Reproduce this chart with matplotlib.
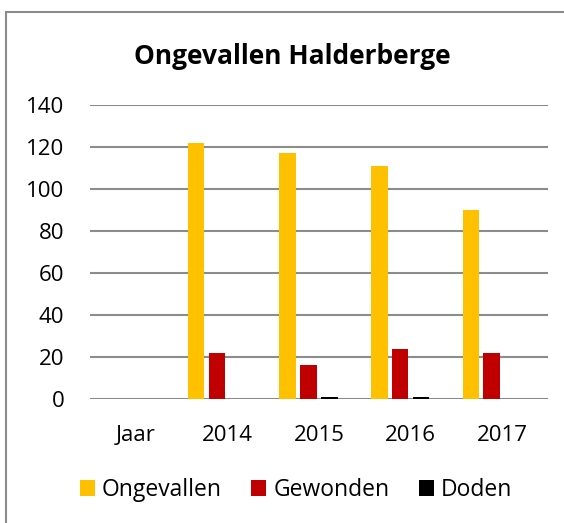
import matplotlib
matplotlib.use("Agg")
import matplotlib.pyplot as plt
import numpy as np
from matplotlib.patches import Rectangle

categories = ["Jaar", "2014", "2015", "2016", "2017"]
ongevallen = [0, 122, 117, 111, 90]
gewonden = [0, 22, 16, 24, 22]
doden = [0, 0, 1, 1, 0]
series = [("Ongevallen", ongevallen, "#FFC000"),
          ("Gewonden", gewonden, "#C00000"),
          ("Doden", doden, "#000000")]
yticks = [0, 20, 40, 60, 80, 100, 120, 140]

plt.rcParams['font.family'] = ['Open Sans', 'DejaVu Sans']

fig = plt.figure(figsize=(5.64, 5.23), dpi=100)
ax = fig.add_axes([90/564, 1-399/523, 458/564, 294/523])

x = np.arange(len(categories))
slot = 0.228
bw = 0.182
offsets = [-1.5, -0.5, 0.5]
for (name, vals, col), off in zip(series, offsets):
    ax.bar(x + off*slot, vals, width=bw, color=col, label=name, zorder=3)

ax.set_xlim(-0.5, len(categories)-0.5)
ax.set_ylim(0, 140)
ax.set_yticks(yticks)
ax.set_yticklabels([str(v) for v in yticks], fontsize=16)
ax.set_xticks(x)
ax.set_xticklabels(categories, fontsize=16)
ax.tick_params(axis='both', length=0)
ax.tick_params(axis='y', pad=18.5)
ax.tick_params(axis='x', pad=19)
for s in ax.spines.values():
    s.set_visible(False)
ax.grid(axis='y', color='#8c8c8c', linewidth=1.5, zorder=0)
ax.set_axisbelow(True)

fig.text(292/564, 1-57/523, "Ongevallen Halderberge", ha='center', va='center',
         fontsize=19, fontweight='bold')

fig.legend(loc='center', bbox_to_anchor=(296/564, 1-490/523), ncol=3, frameon=False,
           fontsize=16.5, handlelength=0.65, handleheight=0.65, handletextpad=0.3,
           columnspacing=1.3)

fig.patches.append(Rectangle((6/564, -0.1), 1.2, 1.1 - 12/523, transform=fig.transFigure,
                             fill=False, edgecolor='#8c8c8c', linewidth=1.5))

fig.savefig("out.png", dpi=100)
